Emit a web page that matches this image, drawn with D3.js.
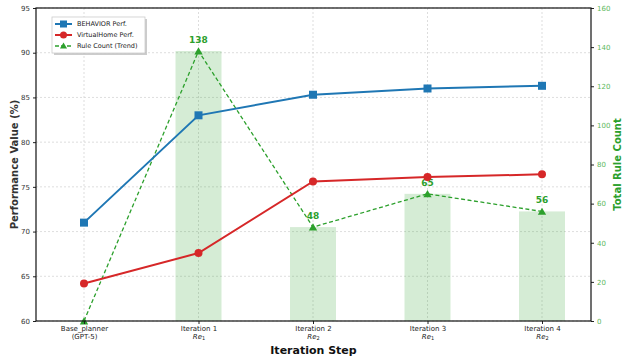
<!DOCTYPE html>
<html><head><meta charset="utf-8">
<script src="https://cdn.jsdelivr.net/npm/d3@7"></script>
<style>body{margin:0;background:#fff;} text{font-family:"DejaVu Sans",sans-serif;}</style>
</head><body>
<svg id="c" width="623" height="360"></svg>
<script>
const categories = ["Base_planner", "Iteration 1", "Iteration 2", "Iteration 3", "Iteration 4"];
const subLabels = ["(GPT-5)", "Re|1", "Re|2", "Re|1", "Re|2"];
const behavior = [71.0, 83.0, 85.3, 86.0, 86.3];
const virtualHome = [64.2, 67.6, 75.6, 76.1, 76.4];
const ruleCount = [0, 138, 48, 65, 56];
const leftTicks = [60, 65, 70, 75, 80, 85, 90, 95];
const rightTicks = [0, 20, 40, 60, 80, 100, 120, 140, 160];

const svg = d3.select("#c");
const L = 36, R = 591, T = 8, B = 321;
const blue = "#1f77b4", red = "#d62728", green = "#2ca02c";

const x = d3.scalePoint().domain(categories).range([84, 542]);
const y = d3.scaleLinear().domain([60, 95]).range([B, T]);
const y2 = d3.scaleLinear().domain([0, 160]).range([B, T]);
const rules = ruleCount.map((v, i) => ({ c: categories[i], v }));

// grid
const g = svg.append("g");
g.selectAll(".gy").data(leftTicks).join("line")
  .attr("x1", L).attr("x2", R).attr("y1", d => y(d)).attr("y2", d => y(d))
  .attr("stroke", "#cfcfcf").attr("stroke-width", 0.7).attr("stroke-dasharray", "2,2");
g.selectAll(".gx").data(categories).join("line")
  .attr("x1", d => x(d)).attr("x2", d => x(d)).attr("y1", T).attr("y2", B)
  .attr("stroke", "#cfcfcf").attr("stroke-width", 0.7).attr("stroke-dasharray", "2,2");

// bars
const bw = 46;
svg.append("g").selectAll("rect").data(rules).join("rect")
  .attr("x", d => x(d.c) - bw / 2).attr("width", bw)
  .attr("y", d => y2(d.v)).attr("height", d => B - y2(d.v))
  .attr("fill", green).attr("fill-opacity", 0.2);

// rule trend line
const line2 = d3.line().x(d => x(d.c)).y(d => y2(d.v));
svg.append("path").datum(rules).attr("d", line2).attr("fill", "none")
  .attr("stroke", green).attr("stroke-width", 1.3).attr("stroke-dasharray", "4,2.5");
svg.append("g").selectAll("path").data(rules).join("path")
  .attr("d", d3.symbol(d3.symbolTriangle, 30)())
  .attr("transform", d => `translate(${x(d.c)},${y2(d.v) + 1})`)
  .attr("fill", green);
svg.append("g").selectAll("text").data(rules.filter(d => d.v > 0)).join("text")
  .attr("x", d => x(d.c)).attr("y", d => y2(d.v) - 8)
  .attr("text-anchor", "middle").attr("font-size", 9).attr("font-weight", "bold")
  .attr("fill", green).text(d => d.v);

// perf lines
const line = d3.line().x((d, i) => x(categories[i])).y(d => y(d));
svg.append("path").datum(behavior).attr("d", line).attr("fill", "none").attr("stroke", blue).attr("stroke-width", 2);
svg.append("g").selectAll("rect").data(behavior).join("rect")
  .attr("x", (d, i) => x(categories[i]) - 4).attr("y", d => y(d) - 4)
  .attr("width", 8).attr("height", 8).attr("fill", blue);
svg.append("path").datum(virtualHome).attr("d", line).attr("fill", "none").attr("stroke", red).attr("stroke-width", 2);
svg.append("g").selectAll("circle").data(virtualHome).join("circle")
  .attr("cx", (d, i) => x(categories[i])).attr("cy", d => y(d)).attr("r", 4).attr("fill", red);

// axes
const axL = svg.append("g").attr("transform", `translate(${L},0)`)
  .call(d3.axisLeft(y).tickValues(leftTicks).tickSize(3).tickPadding(3));
axL.selectAll("text").attr("font-size", 7).attr("fill", "#333");
const axR = svg.append("g").attr("transform", `translate(${R},0)`)
  .call(d3.axisRight(y2).tickValues(rightTicks).tickSize(3).tickPadding(3));
axR.selectAll("text").attr("font-size", 7).attr("fill", "#5cb85c");
const axB = svg.append("g").attr("transform", `translate(0,${B})`)
  .call(d3.axisBottom(x).tickSize(3).tickPadding(2));
axB.selectAll("text").attr("font-size", 7).attr("fill", "#222");
[axL, axR, axB].forEach(a => { a.select(".domain").remove(); a.selectAll("line").attr("stroke", "#222"); });
axB.selectAll(".tick").each(function (d, i) {
  const t = d3.select(this).append("text").attr("y", 13).attr("dy", "0.71em")
    .attr("text-anchor", "middle").attr("font-size", 7).attr("fill", "#222");
  const s = subLabels[i];
  if (s.includes("|")) {
    const [base, sub] = s.split("|");
    t.append("tspan").attr("font-style", "italic").text(base);
    t.append("tspan").attr("font-size", 5).attr("dy", 1.5).text(sub);
  } else t.text(s);
});
// frame
svg.append("rect").attr("x", L).attr("y", T).attr("width", R - L).attr("height", B - T)
  .attr("fill", "none").attr("stroke", "#111").attr("stroke-width", 1.2);

// titles
svg.append("text").attr("x", (L + R) / 2).attr("y", 354).attr("text-anchor", "middle")
  .attr("font-size", 11).attr("font-weight", "bold").attr("fill", "#111").text("Iteration Step");
svg.append("text").attr("transform", `translate(18,${(T + B) / 2}) rotate(-90)`).attr("text-anchor", "middle")
  .attr("font-size", 10).attr("font-weight", "bold").attr("fill", "#333").text("Performance Value (%)");
svg.append("text").attr("transform", `translate(621,${(T + B) / 2}) rotate(-90)`).attr("text-anchor", "middle")
  .attr("font-size", 10).attr("font-weight", "bold").attr("fill", green).text("Total Rule Count");

// legend
const lg = svg.append("g").attr("transform", "translate(52,17)");
lg.append("rect").attr("x", 2).attr("y", 2).attr("width", 93).attr("height", 36).attr("fill", "#999").attr("opacity", 0.5);
lg.append("rect").attr("width", 93).attr("height", 36).attr("fill", "#fff").attr("stroke", "#ccc").attr("stroke-width", 0.8);
const items = [["BEHAVIOR Perf.", blue, "sq"], ["VirtualHome Perf.", red, "ci"], ["Rule Count (Trend)", green, "tr"]];
items.forEach((it, i) => {
  const yy = 7 + i * 11;
  const row = lg.append("g").attr("transform", `translate(0,${yy})`);
  if (it[2] === "tr") row.append("line").attr("x1", 3).attr("x2", 20).attr("stroke", it[1]).attr("stroke-width", 1.3).attr("stroke-dasharray", "4,2");
  else row.append("line").attr("x1", 3).attr("x2", 20).attr("stroke", it[1]).attr("stroke-width", 2);
  if (it[2] === "sq") row.append("rect").attr("x", 8).attr("y", -3.5).attr("width", 7).attr("height", 7).attr("fill", it[1]);
  if (it[2] === "ci") row.append("circle").attr("cx", 11.5).attr("r", 3.5).attr("fill", it[1]);
  if (it[2] === "tr") row.append("path").attr("d", d3.symbol(d3.symbolTriangle, 22)()).attr("transform", "translate(11.5,0.5)").attr("fill", it[1]);
  row.append("text").attr("x", 25).attr("dy", "0.35em").attr("font-size", 6.5).attr("fill", "#222").text(it[0]);
});
</script>
</body></html>
